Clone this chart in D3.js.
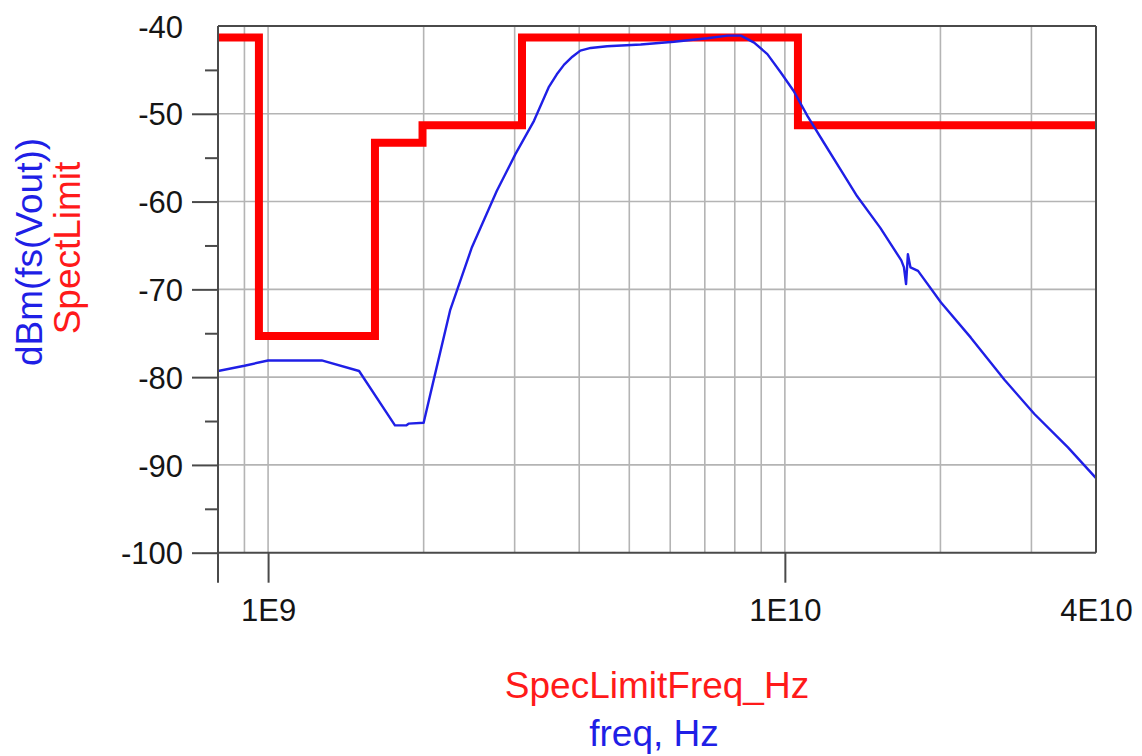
<!DOCTYPE html>
<html>
<head>
<meta charset="utf-8">
<script src="https://cdn.jsdelivr.net/npm/d3@7"></script>
<style>
  html, body { margin: 0; padding: 0; background: #ffffff; }
  svg { display: block; font-family: "Liberation Sans", Arial, sans-serif; }
</style>
</head>
<body>
<svg id="chart" width="1142" height="756"></svg>
<script>
// Spectral limit mask (step function): breakpoints in Hz and level in dBm
const limitFreqHz = [8e8, 9.6e8, 1.61e9, 1.99e9, 3.1e9, 1.06e10, 4e10];
const limitDbm    = [-41.3, -75.3, -53.3, -51.3, -41.3, -51.3, -51.3];

// Simulated output spectrum dBm(fs(Vout))
const freqHz = [
  8.0e8, 9.0e8, 1.0e9, 1.27e9, 1.5e9, 1.76e9, 1.85e9, 1.87e9, 2.0e9,
  2.09e9, 2.25e9, 2.48e9, 2.77e9, 3.01e9, 3.27e9, 3.49e9, 3.62e9, 3.74e9,
  3.88e9, 4.02e9, 4.21e9, 4.53e9, 5.26e9, 6.10e9, 7.08e9, 7.74e9, 8.22e9,
  8.72e9, 9.25e9, 9.82e9, 1.04e10, 1.107e10, 1.19e10, 1.28e10, 1.38e10,
  1.53e10, 1.68e10, 1.70e10, 1.716e10, 1.73e10, 1.75e10, 1.81e10, 2.005e10,
  2.29e10, 2.66e10, 3.04e10, 3.53e10, 4.0e10
];
const voutDbm = [
  -79.3, -78.7, -78.1, -78.1, -79.3, -85.5, -85.5, -85.3, -85.2,
  -80.4, -72.4, -65.2, -58.8, -54.6, -50.8, -47.0, -45.5, -44.4,
  -43.5, -42.8, -42.5, -42.3, -42.1, -41.8, -41.4, -41.1, -41.1,
  -41.9, -43.2, -45.3, -47.4, -50.3, -53.3, -56.3, -59.4,
  -63.0, -66.7, -67.5, -69.4, -66.0, -67.5, -67.9, -71.5,
  -75.5, -80.3, -84.2, -88.0, -91.5
];

// Axis ticks
const xTickValues = [1e9, 1e10, 4e10];
const xTickLabels = ["1E9", "1E10", "4E10"];
const yMajorTicks = [-100, -90, -80, -70, -60, -50, -40];
const yMinorTicks = [-95, -85, -75, -65, -55, -45];
const xGridValues = [9e8, 1e9, 2e9, 3e9, 4e9, 5e9, 6e9, 7e9, 8e9, 9e9, 1e10, 2e10, 3e10];

const plotLeft = 218, plotRight = 1096, plotTop = 26, plotBottom = 552.7;

const svg = d3.select("#chart");

const x = d3.scaleLog().domain([8e8, 4e10]).range([plotLeft, plotRight]);
const y = d3.scaleLinear().domain([-100, -40]).range([plotBottom, plotTop]);

const gridColor = "#b4b4b4";
const frameColor = "#4a4a4a";

// grid
svg.append("g").selectAll("line").data(xGridValues).join("line")
  .attr("x1", d => x(d)).attr("x2", d => x(d))
  .attr("y1", plotTop).attr("y2", plotBottom)
  .attr("stroke", gridColor).attr("stroke-width", 1.6);
svg.append("g").selectAll("line").data(yMajorTicks.filter(v => v > -100 && v < -40)).join("line")
  .attr("x1", plotLeft).attr("x2", plotRight)
  .attr("y1", d => y(d)).attr("y2", d => y(d))
  .attr("stroke", gridColor).attr("stroke-width", 1.6);

// clip for data
svg.append("defs").append("clipPath").attr("id", "plotClip")
  .append("rect").attr("x", plotLeft).attr("y", plotTop - 10)
  .attr("width", plotRight - plotLeft).attr("height", plotBottom - plotTop + 10);

// spec limit mask
const limitPts = limitFreqHz.map((f, i) => [f, limitDbm[i]]);
svg.append("path")
  .datum(limitPts)
  .attr("clip-path", "url(#plotClip)")
  .attr("fill", "none")
  .attr("stroke", "#ff0000")
  .attr("stroke-width", 8)
  .attr("stroke-linejoin", "miter")
  .attr("d", d3.line().x(d => x(d[0])).y(d => y(d[1])).curve(d3.curveStepAfter));

// output spectrum
const voutPts = freqHz.map((f, i) => [f, voutDbm[i]]);
svg.append("path")
  .datum(voutPts)
  .attr("clip-path", "url(#plotClip)")
  .attr("fill", "none")
  .attr("stroke", "#1f1fe6")
  .attr("stroke-width", 2.4)
  .attr("stroke-linejoin", "round")
  .attr("d", d3.line().x(d => x(d[0])).y(d => y(d[1])).curve(d3.curveLinear));

// frame: top and right borders
svg.append("line").attr("x1", plotLeft).attr("x2", plotRight).attr("y1", plotTop).attr("y2", plotTop)
  .attr("stroke", frameColor).attr("stroke-width", 2);
svg.append("line").attr("x1", plotRight).attr("x2", plotRight).attr("y1", plotTop).attr("y2", plotBottom)
  .attr("stroke", frameColor).attr("stroke-width", 2);

// y axis (major ticks with labels)
const yAxis = svg.append("g")
  .attr("transform", `translate(${plotLeft},0)`)
  .call(d3.axisLeft(y).tickValues(yMajorTicks).tickSize(26).tickPadding(9)
        .tickFormat(d => String(d)));
yAxis.select(".domain").remove();
yAxis.selectAll(".tick line").attr("stroke", frameColor).attr("stroke-width", 2);
yAxis.selectAll(".tick").filter(d => d === -40).select("line").remove();
yAxis.selectAll(".tick text")
  .attr("font-size", 31).attr("fill", "#151515")
  .attr("font-family", "Liberation Sans, Arial, sans-serif")
  .attr("dy", "0.36em");

// y axis minor ticks
const yMinor = svg.append("g")
  .attr("transform", `translate(${plotLeft},0)`)
  .call(d3.axisLeft(y).tickValues(yMinorTicks).tickSize(13).tickFormat(""));
yMinor.select(".domain").remove();
yMinor.selectAll(".tick line").attr("stroke", frameColor).attr("stroke-width", 2);

// x axis
const xAxis = svg.append("g")
  .attr("transform", `translate(0,${plotBottom})`)
  .call(d3.axisBottom(x).tickValues(xTickValues).tickSize(30).tickPadding(16)
        .tickFormat((d, i) => xTickLabels[i]));
xAxis.select(".domain").remove();
xAxis.selectAll(".tick line").attr("stroke", frameColor).attr("stroke-width", 2);
xAxis.selectAll(".tick").filter(d => d === 4e10).select("line").remove();
xAxis.selectAll(".tick text")
  .attr("font-size", 31).attr("fill", "#151515")
  .attr("font-family", "Liberation Sans, Arial, sans-serif");

// left and bottom axis lines
svg.append("line").attr("x1", plotLeft).attr("x2", plotLeft).attr("y1", plotTop).attr("y2", plotBottom + 30)
  .attr("stroke", frameColor).attr("stroke-width", 2);
svg.append("line").attr("x1", plotLeft).attr("x2", plotRight).attr("y1", plotBottom).attr("y2", plotBottom)
  .attr("stroke", frameColor).attr("stroke-width", 2);

// axis titles
const cx = (plotLeft + plotRight) / 2;
svg.append("text").attr("x", cx).attr("y", 698).attr("text-anchor", "middle")
  .attr("font-size", 37).attr("fill", "#ff1a1a").text("SpecLimitFreq_Hz");
svg.append("text").attr("x", cx - 3).attr("y", 746).attr("text-anchor", "middle")
  .attr("font-size", 37).attr("fill", "#1f1fe6").text("freq, Hz");

svg.append("text").attr("transform", "translate(42,252) rotate(-90)")
  .attr("text-anchor", "middle").attr("font-size", 37).attr("fill", "#1f1fe6")
  .text("dBm(fs(Vout))");
svg.append("text").attr("transform", "translate(80,248) rotate(-90)")
  .attr("text-anchor", "middle").attr("font-size", 37).attr("fill", "#ff1a1a")
  .text("SpectLimit");
</script>
</body>
</html>
